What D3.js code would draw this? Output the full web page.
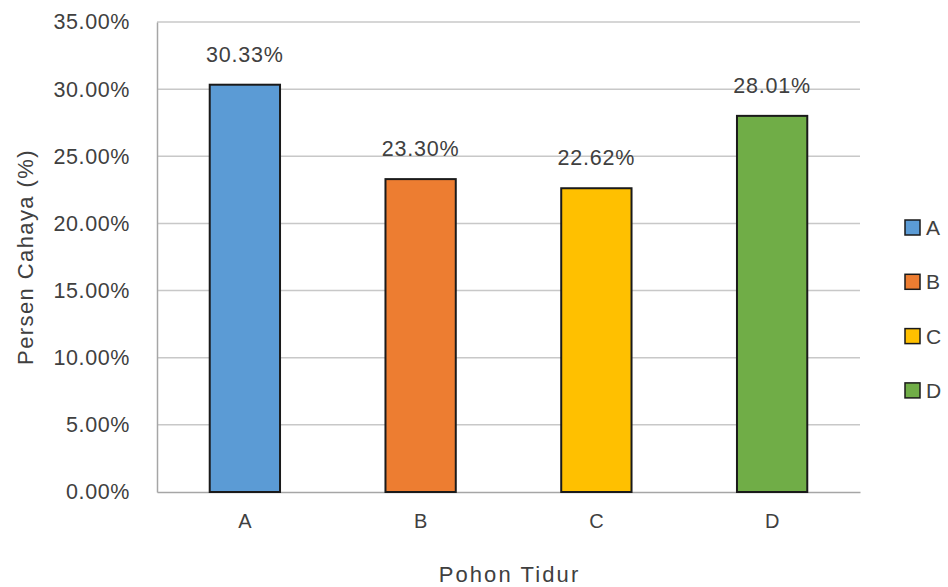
<!DOCTYPE html>
<html><head><meta charset="utf-8">
<script src="https://cdn.jsdelivr.net/npm/d3@7"></script>
<style>body{margin:0;background:#fff;} text{font-family:"Liberation Sans",Arial,sans-serif;fill:#404040;}</style>
</head><body>
<svg id="c" width="948" height="587"></svg>
<script>
const categories = ["A","B","C","D"];
const values = [30.33, 23.30, 22.62, 28.01];
const labels = ["30.33%","23.30%","22.62%","28.01%"];
const colors = ["#5B9BD5","#ED7D31","#FFC000","#70AD47"];
const yTicks = [0,5,10,15,20,25,30,35];

const svg = d3.select("#c");
const m = {left:157, right:860, top:22, bottom:492};
const x = d3.scaleBand().domain(categories).range([m.left,m.right]).paddingInner(0.6).paddingOuter(0.3);
const y = d3.scaleLinear().domain([0,35]).range([m.bottom,m.top]);

// gridlines
svg.append("g").selectAll("line").data(yTicks.filter(d=>d>0)).join("line")
  .attr("x1",m.left).attr("x2",m.right).attr("y1",d=>y(d)).attr("y2",d=>y(d))
  .attr("stroke","#c8c8c8").attr("stroke-width",1.5);

// y axis
const ya = svg.append("g").attr("transform",`translate(${m.left},0)`)
  .call(d3.axisLeft(y).tickValues(yTicks).tickFormat(d=>d.toFixed(2)+"%").tickSize(0).tickPadding(27));
ya.select(".domain").attr("stroke","#a6a6a6").attr("stroke-width",1.5);
ya.selectAll("text").style("font-size","21.5px").style("letter-spacing","0.6px").style("font-family","Liberation Sans").attr("fill","#404040");

// x axis
const xa = svg.append("g").attr("transform",`translate(0,${m.bottom})`)
  .call(d3.axisBottom(x).tickSize(0).tickPadding(22));
xa.select(".domain").attr("stroke","#a6a6a6").attr("stroke-width",1.5);
xa.selectAll("text").style("font-size","20px").style("font-family","Liberation Sans").attr("fill","#404040");

// bars
svg.append("g").selectAll("rect").data(categories).join("rect")
  .attr("x",d=>x(d)).attr("width",x.bandwidth())
  .attr("y",(d,i)=>y(values[i])).attr("height",(d,i)=>y(0)-y(values[i]))
  .attr("fill",(d,i)=>colors[i]).attr("stroke","#1a1a1a").attr("stroke-width",2);

// data labels
svg.append("g").selectAll("text").data(categories).join("text")
  .attr("x",d=>x(d)+x.bandwidth()/2).attr("y",(d,i)=>y(values[i])-23)
  .attr("text-anchor","middle").style("font-size","21.5px").style("letter-spacing","0.8px").text((d,i)=>labels[i]);

// axis titles
svg.append("text").attr("x",(m.left+m.right)/2+1).attr("y",582).attr("text-anchor","middle")
  .style("font-size","22px").style("letter-spacing","2.1px").text("Pohon Tidur");
svg.append("text").attr("transform","translate(33,257) rotate(-90)").attr("text-anchor","middle")
  .style("font-size","22px").style("letter-spacing","1.4px").text("Persen Cahaya (%)");

// legend
const lg = svg.append("g").selectAll("g").data(categories).join("g")
  .attr("transform",(d,i)=>`translate(905,${220+i*54.3})`);
lg.append("rect").attr("width",15).attr("height",15).attr("fill",(d,i)=>colors[i])
  .attr("stroke","#1a1a1a").attr("stroke-width",1.5);
lg.append("text").attr("x",21).attr("y",15).style("font-size","21px").text(d=>d);
</script>
</body></html>
